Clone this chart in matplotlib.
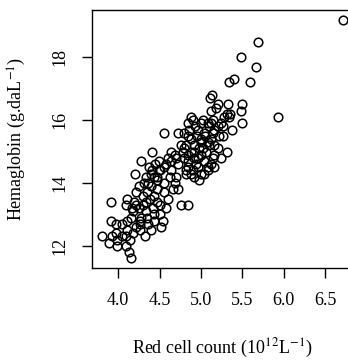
import numpy as np
import matplotlib
matplotlib.use("Agg")
import matplotlib.pyplot as plt

# Red cell count (10^12 per litre) and hemoglobin (g per decalitre) per athlete
rcc = [
    6.72, 5.69, 5.48, 5.66, 5.34, 5.40, 5.59, 5.13, 5.11, 5.21,
    5.33, 5.50, 5.12, 5.18, 5.48, 5.31, 5.35, 5.28, 4.88, 4.90,
    5.49, 5.93, 4.84, 5.00, 5.08, 5.26, 5.38, 4.55, 4.72, 4.41,
    4.28, 4.20, 3.91, 3.80, 4.76, 4.84, 5.32, 5.16, 4.97, 5.34,
    4.93, 5.12, 5.24, 5.16, 5.22, 5.26, 5.04, 4.96, 4.80, 4.88,
    5.00, 5.12, 5.16, 5.20, 5.06, 4.92, 4.80, 4.84, 5.00, 5.16,
    5.14, 5.14, 4.84, 5.00, 4.76, 4.82, 4.92, 5.02, 5.10, 4.78,
    4.88, 4.64, 4.70, 4.80, 4.92, 5.04, 5.14, 5.24, 4.58, 4.72,
    4.84, 4.96, 5.08, 4.49, 4.64, 4.88, 5.04, 4.82, 4.92, 4.47,
    4.70, 4.11, 4.19, 4.09, 4.17, 4.25, 4.33, 4.27, 4.15, 4.35,
    4.43, 4.51, 4.58, 4.54, 4.43, 4.37, 4.41, 4.33, 4.43, 4.51,
    4.55, 4.49, 4.47, 4.31, 4.39, 4.47, 4.55, 4.35, 4.43, 4.55,
    4.60, 4.47, 4.51, 4.64, 4.68, 4.84, 4.96, 4.82, 4.90, 5.00,
    5.08, 4.68, 4.72, 4.66, 4.13, 4.15, 3.89, 3.99, 4.09, 3.93,
    3.97, 3.99, 4.05, 4.11, 4.18, 4.26, 4.32, 4.40, 4.52, 4.36,
    3.91, 3.97, 4.05, 4.11, 4.26, 4.18, 4.22, 4.30, 4.42, 4.34,
    4.26, 4.22, 4.09, 4.14, 4.25, 4.30, 4.38, 4.21, 4.40, 4.36,
    4.45, 4.62, 4.60, 4.95, 5.05, 5.10, 4.98, 5.08, 4.86, 5.02,
    5.20, 4.94, 5.12,
]
hg = [
    19.2, 18.5, 18.0, 17.7, 17.2, 17.3, 17.2, 16.8, 16.7, 16.5,
    16.5, 16.5, 16.3, 16.4, 16.3, 16.2, 16.2, 16.1, 16.1, 16.0,
    15.9, 16.1, 15.9, 15.9, 15.9, 15.8, 15.7, 15.6, 15.6, 15.0,
    14.7, 14.3, 13.4, 12.3, 13.3, 13.3, 15.0, 14.5, 14.1, 16.1,
    15.8, 15.9, 15.9, 15.7, 15.5, 15.5, 15.6, 15.7, 15.6, 15.4,
    15.3, 15.4, 15.2, 15.1, 15.0, 15.0, 15.1, 14.9, 14.9, 14.9,
    16.0, 15.6, 15.5, 15.4, 15.2, 15.2, 15.2, 15.1, 15.2, 15.0,
    15.0, 15.0, 14.8, 14.8, 14.8, 14.7, 14.8, 14.8, 14.6, 14.6,
    14.5, 14.5, 14.5, 14.4, 14.4, 14.3, 14.3, 14.3, 14.2, 14.2,
    14.2, 13.5, 13.4, 13.3, 13.2, 13.2, 13.1, 12.9, 12.9, 12.9,
    13.0, 13.0, 13.2, 12.8, 12.8, 14.5, 14.4, 14.2, 14.2, 14.4,
    14.5, 14.7, 14.1, 14.0, 13.9, 13.8, 14.0, 13.7, 13.6, 13.7,
    13.5, 13.4, 13.3, 14.7, 14.9, 14.7, 14.8, 14.4, 14.4, 14.3,
    14.4, 14.0, 13.8, 13.8, 11.8, 11.6, 12.1, 12.0, 12.0, 12.3,
    12.4, 12.2, 12.3, 12.5, 12.4, 12.5, 12.3, 12.5, 12.6, 12.7,
    12.8, 12.7, 12.7, 12.8, 12.8, 13.1, 13.3, 13.3, 13.2, 13.4,
    12.7, 12.6, 12.3, 12.2, 13.9, 13.6, 13.5, 13.7, 14.3, 14.0,
    14.6, 14.2, 14.8, 15.5, 15.5, 15.8, 15.1, 15.3, 15.7, 16.0,
    15.8, 14.6, 14.6,
]

x_ticks = [4.0, 4.5, 5.0, 5.5, 6.0, 6.5]
y_ticks = [12, 14, 16, 18]

plt.rcParams["font.family"] = ["Liberation Serif", "DejaVu Serif"]
plt.rcParams["mathtext.fontset"] = "stix"

rcc = np.array(rcc)
hg = np.array(hg)


def padded_range(values, frac=0.04):
    """Data range widened by a small fraction on each side."""
    lo, hi = values.min(), values.max()
    span = hi - lo
    return lo - frac * span, hi + frac * span


fig = plt.figure(figsize=(3.48, 3.6), dpi=100)
ax = fig.add_axes([0.2644, 0.2556, 0.75, 0.7167])

ax.plot(rcc, hg, linestyle="none", marker="o", markersize=6.2,
        markerfacecolor="none", markeredgecolor="black", markeredgewidth=1.1)

ax.set_xlim(*padded_range(rcc))
ax.set_ylim(*padded_range(hg))

ax.set_xticks(x_ticks)
ax.set_xticklabels([f"{t:.1f}" for t in x_ticks])
ax.set_yticks(y_ticks)
ax.set_yticklabels([str(t) for t in y_ticks], rotation=90, va="center")

ax.tick_params(direction="out", length=7, width=1.0, pad=10, labelsize=13)
for spine in ax.spines.values():
    spine.set_linewidth(1.0)

ax.set_xlabel(r"Red cell count (10$^{12}$L$^{-1}$)", fontsize=13)
ax.set_ylabel(r"Hemaglobin (g.daL$^{-1}$)", fontsize=13)
ax.xaxis.set_label_coords(0.5, -0.268)
ax.yaxis.set_label_coords(-0.245, 0.5)

fig.savefig("out.png", dpi=100)
plt.close(fig)
